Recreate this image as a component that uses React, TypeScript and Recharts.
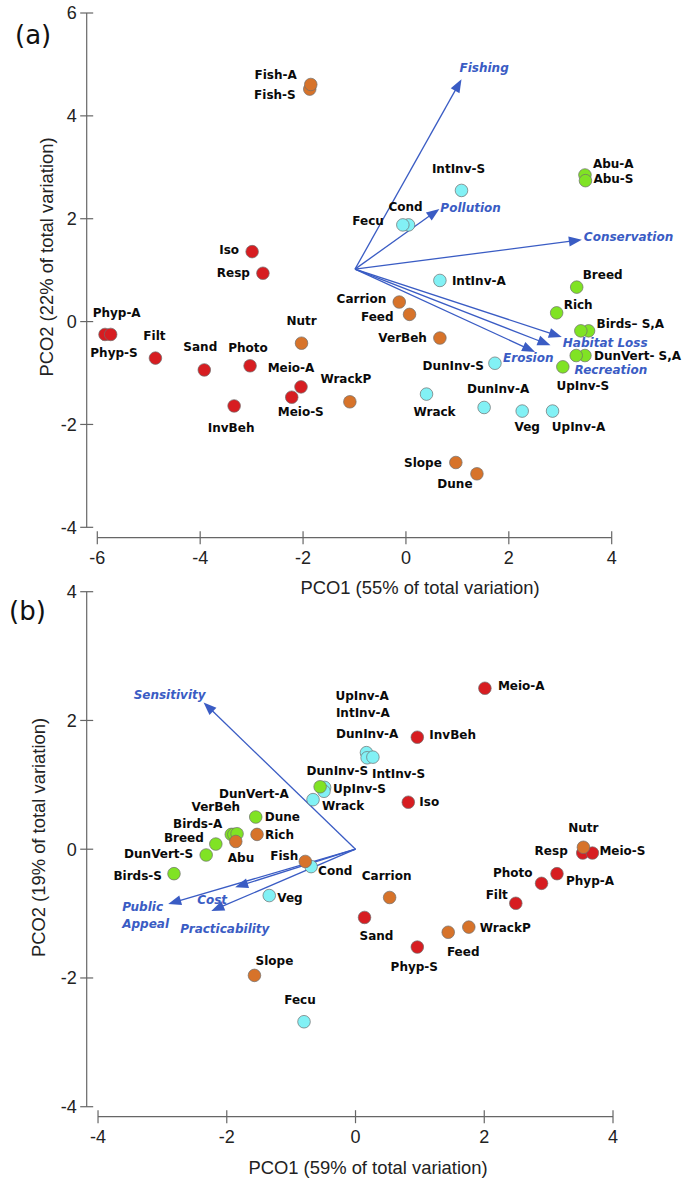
import React from 'react';
import { ScatterChart, Scatter, XAxis, YAxis, ReferenceLine } from 'recharts';

type Pt = { name: string; x: number; y: number };
type Lab = [number, number, 'start' | 'middle' | 'end', string?];

const RED = '#d71d21';
const ORANGE = '#d7732a';
const CYAN = '#82f1f5';
const GREEN = '#80e324';
const BLUE = '#3a5cc4';
const AXIS = '#666666';

// ---------- panel (a) ----------
const aRed: Pt[] = [
  { name: 'Iso', x: -2.99, y: 1.36 },
  { name: 'Resp', x: -2.78, y: 0.94 },
  { name: 'Phyp-S', x: -5.85, y: -0.25 },
  { name: 'Phyp-A', x: -5.74, y: -0.25 },
  { name: 'Filt', x: -4.87, y: -0.71 },
  { name: 'Sand', x: -3.92, y: -0.94 },
  { name: 'Photo', x: -3.03, y: -0.86 },
  { name: 'Meio-A', x: -2.04, y: -1.27 },
  { name: 'Meio-S', x: -2.22, y: -1.47 },
  { name: 'InvBeh', x: -3.34, y: -1.64 },
];
const aOrange: Pt[] = [
  { name: 'Fish-S', x: -1.87, y: 4.52 },
  { name: 'Fish-A', x: -1.85, y: 4.61 },
  { name: 'Carrion', x: -0.13, y: 0.38 },
  { name: 'Feed', x: 0.07, y: 0.14 },
  { name: 'VerBeh', x: 0.66, y: -0.32 },
  { name: 'Nutr', x: -2.03, y: -0.42 },
  { name: 'WrackP', x: -1.09, y: -1.56 },
  { name: 'Slope', x: 0.97, y: -2.74 },
  { name: 'Dune', x: 1.38, y: -2.96 },
];
const aCyan: Pt[] = [
  { name: 'IntInv-S', x: 1.08, y: 2.55 },
  { name: 'Cond', x: 0.05, y: 1.88 },
  { name: 'Fecu', x: -0.06, y: 1.88 },
  { name: 'IntInv-A', x: 0.66, y: 0.8 },
  { name: 'DunInv-S', x: 1.73, y: -0.81 },
  { name: 'Wrack', x: 0.4, y: -1.41 },
  { name: 'DunInv-A', x: 1.52, y: -1.67 },
  { name: 'Veg', x: 2.26, y: -1.74 },
  { name: 'UpInv-A', x: 2.85, y: -1.74 },
];
const aGreen: Pt[] = [
  { name: 'Abu-A', x: 3.48, y: 2.85 },
  { name: 'Abu-S', x: 3.49, y: 2.74 },
  { name: 'Breed', x: 3.32, y: 0.67 },
  { name: 'Rich', x: 2.93, y: 0.17 },
  { name: 'Birds-A', x: 3.55, y: -0.18 },
  { name: 'Birds-S', x: 3.4, y: -0.18 },
  { name: 'DunVert-A', x: 3.48, y: -0.66 },
  { name: 'DunVert-S', x: 3.31, y: -0.66 },
  { name: 'UpInv-S', x: 3.05, y: -0.88 },
];
const aOrigin = { x: -0.99, y: 1.02 };
const aVectors: Pt[] = [
  { name: 'Fishing', x: 1.08, y: 4.71 },
  { name: 'Pollution', x: 0.65, y: 2.19 },
  { name: 'Conservation', x: 3.42, y: 1.59 },
  { name: 'Habitat Loss', x: 3.03, y: -0.3 },
  { name: 'Recreation', x: 2.81, y: -0.46 },
  { name: 'Erosion', x: 2.51, y: -0.59 },
];
const aTicksX = [-6, -4, -2, 0, 2, 4];
const aTicksY = [-4, -2, 0, 2, 4, 6];

// label placement (pixels from the point)
const aLabels: Record<string, Lab> = {
  'Fish-A': [-14, -10, 'end'],
  'Fish-S': [-14, 6, 'end'],
  'IntInv-S': [-3, -22, 'middle'],
  'Abu-A': [8, -11, 'start'],
  'Abu-S': [8, -2, 'start'],
  Cond: [-3, -18, 'middle'],
  Fecu: [-19, -4, 'end'],
  Iso: [-13, -2, 'end'],
  Resp: [-13, 0, 'end'],
  'IntInv-A': [12, 0, 'start'],
  Breed: [6, -12, 'start'],
  Carrion: [-13, -3, 'end'],
  Rich: [7, -8, 'start'],
  Feed: [-16, 2, 'end'],
  'Phyp-A': [6, -22, 'middle'],
  'Phyp-S': [9, 18, 'middle'],
  Nutr: [0, -22, 'middle'],
  'Birds-A': [8, -7, 'start', 'Birds\u2013 S,A'],
  VerBeh: [-13, 0, 'end'],
  Filt: [-1, -22, 'middle'],
  'DunVert-A': [9, 0, 'start', 'DunVert- S,A'],
  Sand: [-4, -23, 'middle'],
  Photo: [-2, -18, 'middle'],
  'DunInv-S': [-11, 3, 'end'],
  'UpInv-S': [20, 19, 'middle'],
  'Meio-A': [-10, -19, 'middle'],
  'Meio-S': [9, 15, 'middle'],
  InvBeh: [-3, 22, 'middle'],
  WrackP: [-4, -23, 'middle'],
  Wrack: [8, 18, 'middle'],
  'DunInv-A': [14, -19, 'middle'],
  Veg: [5, 16, 'middle'],
  'UpInv-A': [26, 16, 'middle'],
  Slope: [-14, 0, 'end'],
  Dune: [-22, 10, 'middle'],
};
const aVecLabels: Record<string, Lab> = {
  Fishing: [-2, -12, 'start'],
  Pollution: [1, -1, 'start'],
  Conservation: [2, -3, 'start'],
  'Habitat Loss': [1, 6, 'start'],
  Recreation: [24, 25, 'start'],
  Erosion: [-32, 6, 'start'],
};

// ---------- panel (b) ----------
const bRed: Pt[] = [
  { name: 'Meio-A', x: 2.01, y: 2.5 },
  { name: 'InvBeh', x: 0.96, y: 1.74 },
  { name: 'Iso', x: 0.82, y: 0.73 },
  { name: 'Resp', x: 3.53, y: -0.06 },
  { name: 'Meio-S', x: 3.68, y: -0.06 },
  { name: 'Phyp-A', x: 3.13, y: -0.38 },
  { name: 'Photo', x: 2.89, y: -0.53 },
  { name: 'Filt', x: 2.49, y: -0.84 },
  { name: 'Sand', x: 0.14, y: -1.06 },
  { name: 'Phyp-S', x: 0.96, y: -1.52 },
];
const bOrange: Pt[] = [
  { name: 'Rich', x: -1.53, y: 0.23 },
  { name: 'Fish', x: -0.78, y: -0.19 },
  { name: 'Carrion', x: 0.53, y: -0.75 },
  { name: 'Nutr', x: 3.54, y: 0.03 },
  { name: 'Feed', x: 1.44, y: -1.29 },
  { name: 'WrackP', x: 1.76, y: -1.21 },
  { name: 'Slope', x: -1.57, y: -1.96 },
];
const bCyan: Pt[] = [
  { name: 'UpInv-A', x: 0.17, y: 1.5 },
  { name: 'DunInv-A', x: 0.18, y: 1.42 },
  { name: 'IntInv-A', x: 0.27, y: 1.43 },
  { name: 'DunInv-S', x: -0.48, y: 0.96 },
  { name: 'IntInv-S', x: -0.49, y: 0.9 },
  { name: 'Wrack', x: -0.66, y: 0.77 },
  { name: 'Cond', x: -0.69, y: -0.27 },
  { name: 'Veg', x: -1.34, y: -0.72 },
  { name: 'Fecu', x: -0.8, y: -2.68 },
];
const bGreen: Pt[] = [
  { name: 'UpInv-S', x: -0.55, y: 0.97 },
  { name: 'Dune', x: -1.55, y: 0.5 },
  { name: 'Birds-A', x: -1.93, y: 0.23 },
  { name: 'DunVert-A', x: -1.89, y: 0.23 },
  { name: 'VerBeh', x: -1.84, y: 0.24 },
  { name: 'Breed', x: -2.17, y: 0.08 },
  { name: 'DunVert-S', x: -2.32, y: -0.09 },
  { name: 'Birds-S', x: -2.82, y: -0.38 },
];
const bOrange2: Pt[] = [{ name: 'Abu', x: -1.86, y: 0.12 }];
const bOrigin = { x: 0, y: 0 };
const bVectors: Pt[] = [
  { name: 'Sensitivity', x: -2.36, y: 2.28 },
  { name: 'Public Appeal', x: -2.91, y: -0.85 },
  { name: 'Cost', x: -1.87, y: -0.59 },
  { name: 'Practicability', x: -2.24, y: -0.96 },
];
const bTicks = [-4, -2, 0, 2, 4];

const bLabels: Record<string, Lab> = {
  'Meio-A': [13, -2, 'start'],
  InvBeh: [12, -2, 'start'],
  Iso: [11, 0, 'start'],
  'UpInv-A': [-31, -57, 'start'],
  'IntInv-A': [-37, -44, 'start'],
  'DunInv-A': [-31, -24, 'start'],
  'DunInv-S': [-18, -17, 'start'],
  'IntInv-S': [48, -17, 'start'],
  'UpInv-S': [13, 2, 'start'],
  Wrack: [9, 6, 'start'],
  Dune: [9, 0, 'start'],
  Rich: [8, 0, 'start'],
  Abu: [-8, 16, 'start'],
  'Birds-A': [-9, -11, 'end'],
  VerBeh: [3, -27, 'end'],
  'DunVert-A': [20, -41, 'middle'],
  Breed: [-12, -6, 'end'],
  'DunVert-S': [-13, -1, 'end'],
  'Birds-S': [-12, 2, 'end'],
  Fish: [-7, -6, 'end'],
  Cond: [7, 4, 'start'],
  Veg: [8, 2, 'start'],
  Carrion: [-3, -22, 'middle'],
  Sand: [12, 18, 'middle'],
  Nutr: [0, -19, 'middle'],
  Resp: [-15, -2, 'end'],
  'Meio-S': [7, -2, 'start'],
  'Phyp-A': [9, 7, 'start'],
  Photo: [-9, -11, 'end'],
  Filt: [-8, -8, 'end'],
  Feed: [15, 20, 'middle'],
  WrackP: [11, 1, 'start'],
  'Phyp-S': [-3, 20, 'middle'],
  Slope: [20, -15, 'middle'],
  Fecu: [-4, -22, 'middle'],
};
const bVecLabels: Record<string, Lab> = {
  Sensitivity: [-34, -8, 'middle'],
  'Public Appeal': [-46, 3, 'start', 'Public|Appeal'],
  Cost: [-38, 13, 'start'],
  Practicability: [-31, 18, 'start'],
};

const labelStyle: React.CSSProperties = {
  fontFamily: '"DejaVu Sans", sans-serif',
  fontWeight: 700,
  fontSize: 12,
  fill: '#0a0a0a',
};
const vecStyle: React.CSSProperties = {
  fontFamily: '"DejaVu Sans", sans-serif',
  fontWeight: 700,
  fontStyle: 'italic',
  fontSize: 12,
  fill: BLUE,
};
const tickStyle: React.CSSProperties = {
  fontFamily: '"Liberation Sans", Arial, sans-serif',
  fontSize: 18,
  fill: '#222',
};

const makeDot = (fill: string, labels: Record<string, Lab>) => (props: any) => {
  const { cx, cy, payload } = props;
  const lab = labels[payload.name];
  return (
    <g>
      <circle cx={cx} cy={cy} r={6.3} fill={fill} stroke="#6e6e6e" strokeWidth={0.7} />
      {lab && (
        <text x={cx + lab[0]} y={cy + lab[1]} dy="0.35em" textAnchor={lab[2]} style={labelStyle}>
          {lab[3] ?? payload.name}
        </text>
      )}
    </g>
  );
};

const makeArrow = (name: string, lab: Lab) => (p: any) => {
  const { x1, y1, x2, y2 } = p;
  const ang = Math.atan2(y2 - y1, x2 - x1);
  const L = 13;
  const W = 5;
  const c = Math.cos(ang);
  const s = Math.sin(ang);
  const bx = x2 - L * c;
  const by = y2 - L * s;
  const pts = `${x2},${y2} ${bx + W * s},${by - W * c} ${bx - W * s},${by + W * c}`;
  const lines = (lab[3] ?? name).split('|');
  return (
    <g>
      <line x1={x1} y1={y1} x2={bx + 2 * c} y2={by + 2 * s} stroke={BLUE} strokeWidth={1.3} />
      <polygon points={pts} fill={BLUE} />
      {lines.map((t, i) => (
        <text key={t} x={x2 + lab[0]} y={y2 + lab[1] + i * 17} dy="0.35em" textAnchor={lab[2]} style={vecStyle}>
          {t}
        </text>
      ))}
    </g>
  );
};

const XTick = (p: any) => (
  <g>
    <line x1={p.x} x2={p.x} y1={p.y - 6.5} y2={p.y + 6.5} stroke={AXIS} strokeWidth={1.2} />
    <text x={p.x} y={p.y + 26} textAnchor="middle" style={tickStyle}>
      {p.payload.value}
    </text>
  </g>
);
const YTick = (p: any) => (
  <g>
    <line x1={p.x - 6.5} x2={p.x + 6.5} y1={p.y} y2={p.y} stroke={AXIS} strokeWidth={1.2} />
    <text x={p.x - 10} y={p.y} dy="0.35em" textAnchor="end" style={tickStyle}>
      {p.payload.value}
    </text>
  </g>
);

interface PanelProps {
  top: number;
  height: number;
  margin: { top: number; right: number; bottom: number; left: number };
  xDomain: [number, number];
  yDomain: [number, number];
  xTicks: number[];
  yTicks: number[];
  groups: { data: Pt[]; color: string }[];
  labels: Record<string, Lab>;
  origin: { x: number; y: number };
  vectors: Pt[];
  vecLabels: Record<string, Lab>;
}

function Panel(props: PanelProps) {
  const { xDomain, yDomain, xTicks, yTicks } = props;
  return (
    <div style={{ position: 'absolute', left: 0, top: props.top }}>
      <ScatterChart width={682} height={props.height} margin={props.margin}>
        <XAxis
          type="number"
          dataKey="x"
          domain={xDomain}
          ticks={xTicks}
          interval={0}
          axisLine={false}
          tickLine={false}
          tickSize={0}
          tickMargin={0}
          height={30}
          tick={XTick}
        />
        <YAxis
          type="number"
          dataKey="y"
          domain={yDomain}
          ticks={yTicks}
          interval={0}
          axisLine={false}
          tickLine={false}
          tickSize={0}
          tickMargin={0}
          width={40}
          tick={YTick}
        />
        <ReferenceLine
          segment={[{ x: xTicks[0], y: yDomain[0] }, { x: xTicks[xTicks.length - 1], y: yDomain[0] }]}
          stroke={AXIS}
          strokeWidth={1.2}
        />
        <ReferenceLine
          segment={[{ x: xDomain[0], y: yTicks[0] }, { x: xDomain[0], y: yTicks[yTicks.length - 1] }]}
          stroke={AXIS}
          strokeWidth={1.2}
        />
        {props.vectors.map((v) => (
          <ReferenceLine
            key={v.name}
            segment={[{ x: props.origin.x, y: props.origin.y }, { x: v.x, y: v.y }]}
            shape={makeArrow(v.name, props.vecLabels[v.name])}
          />
        ))}
        {props.groups.map((g, i) => (
          <Scatter key={i} data={g.data} isAnimationActive={false} shape={makeDot(g.color, props.labels)} />
        ))}
      </ScatterChart>
    </div>
  );
}

const titleStyle: React.CSSProperties = {
  fontFamily: '"Liberation Sans", Arial, sans-serif',
  fontSize: 18.4,
  fill: '#222',
};

export default function App() {
  return (
    <div style={{ position: 'absolute', left: 0, top: 0, width: 682, height: 1181, background: '#fff' }}>
      <Panel
        top={0}
        height={600}
        margin={{ top: 13, right: 70.3, bottom: 32.3, left: 46.7 }}
        xDomain={[-6.206, 4]}
        yDomain={[-4.202, 6]}
        xTicks={aTicksX}
        yTicks={aTicksY}
        groups={[
          { data: aRed, color: RED },
          { data: aOrange, color: ORANGE },
          { data: aCyan, color: CYAN },
          { data: aGreen, color: GREEN },
        ]}
        labels={aLabels}
        origin={aOrigin}
        vectors={aVectors}
        vecLabels={aVecLabels}
      />
      <Panel
        top={580}
        height={601}
        margin={{ top: 11.7, right: 69, bottom: 34.3, left: 46.7 }}
        xDomain={[-4.176, 4]}
        yDomain={[-4.155, 4]}
        xTicks={bTicks}
        yTicks={bTicks}
        groups={[
          { data: bRed, color: RED },
          { data: bCyan, color: CYAN },
          { data: bGreen, color: GREEN },
          { data: bOrange, color: ORANGE },
          { data: bOrange2, color: ORANGE },
        ]}
        labels={bLabels}
        origin={bOrigin}
        vectors={bVectors}
        vecLabels={bVecLabels}
      />
      <svg width={682} height={1181} style={{ position: 'absolute', left: 0, top: 0, pointerEvents: 'none' }}>
        <text x={15} y={34.5} dy="0.35em" style={{ fontFamily: '"DejaVu Sans", sans-serif', fontSize: 26, fill: '#111' }}>
          (a)
        </text>
        <text x={9} y={611} dy="0.35em" style={{ fontFamily: '"DejaVu Sans", sans-serif', fontSize: 26, fill: '#111' }}>
          (b)
        </text>
        <text x={420} y={588} dy="0.35em" textAnchor="middle" style={titleStyle}>
          PCO1 (55% of total variation)
        </text>
        <text x={368} y={1168} dy="0.35em" textAnchor="middle" style={titleStyle}>
          PCO1 (59% of total variation)
        </text>
        <text x={47} y={257} dy="0.35em" textAnchor="middle" transform="rotate(-90 47 257)" style={titleStyle}>
          PCO2 (22% of total variation)
        </text>
        <text x={39} y={837.5} dy="0.35em" textAnchor="middle" transform="rotate(-90 39 837.5)" style={titleStyle}>
          PCO2 (19% of total variation)
        </text>
      </svg>
    </div>
  );
}
